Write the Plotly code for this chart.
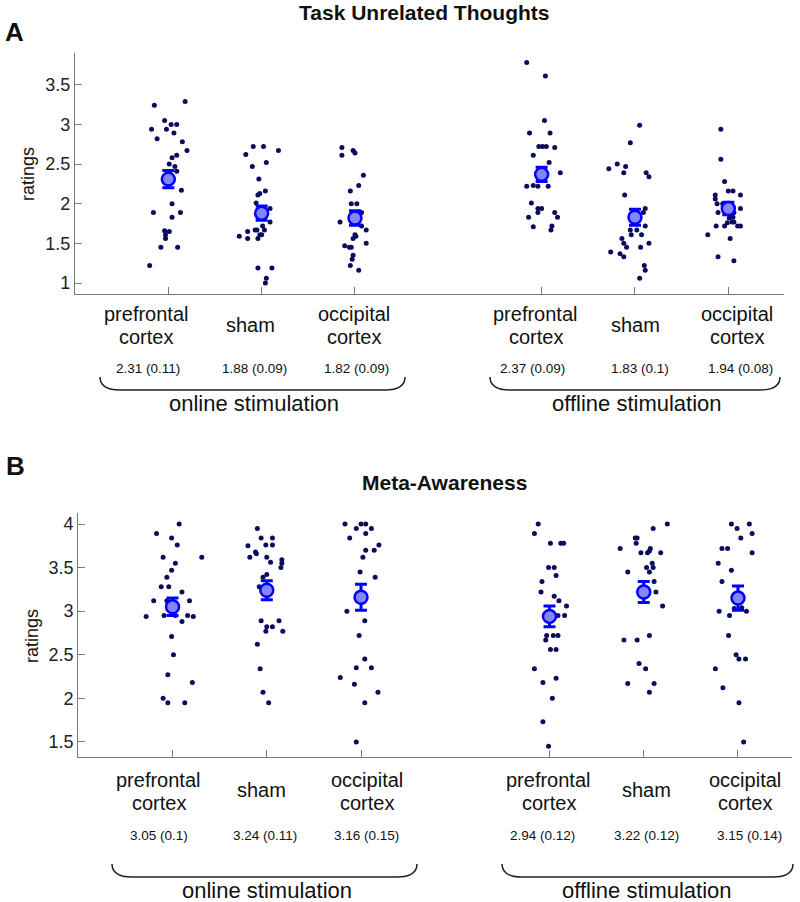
import plotly.graph_objects as go

# ---------------- data ----------------
positions = [1, 2, 3, 5, 6, 7]
cat_line1 = ["prefrontal", "sham", "occipital", "prefrontal", "sham", "occipital"]
cat_line2 = ["cortex", "", "cortex", "cortex", "", "cortex"]
stim_labels = ["online stimulation", "offline stimulation"]

tut_means = [2.31, 1.88, 1.82, 2.37, 1.83, 1.94]
tut_se = [0.11, 0.09, 0.09, 0.09, 0.10, 0.08]
ma_means = [3.05, 3.24, 3.16, 2.94, 3.22, 3.15]
ma_se = [0.10, 0.11, 0.15, 0.12, 0.12, 0.14]

tut_yticks = [1, 1.5, 2, 2.5, 3, 3.5]
ma_yticks = [1.5, 2, 2.5, 3, 3.5, 4]

# Task unrelated thoughts: individual ratings (y) and horizontal jitter (dx)
tut_on_pfc_y = [3.24, 3.29, 3.05, 2.94, 2.94, 3.0, 3.0, 2.82, 2.89, 2.78, 2.67, 2.58, 2.61, 2.5, 2.47, 2.41,
                2.17, 2.0, 1.89, 1.89, 1.83, 1.66, 1.65, 1.61, 1.56, 1.45, 1.45, 1.22]
tut_on_pfc_dx = [-0.15, 0.18, -0.04, -0.18, -0.02, 0.03, 0.09, -0.12, 0.06, 0.15, 0.2, 0.04, 0.09, 0.01, 0.07, 0.09,
                 0.14, 0.04, -0.16, 0.13, 0.04, -0.04, 0.01, -0.03, -0.03, -0.08, 0.1, -0.2]
tut_on_sham_y = [2.62, 2.72, 2.72, 2.67, 2.47, 2.52, 2.31, 2.11, 2.13, 2.16, 2.01, 1.94, 1.77, 1.72, 1.65, 1.67,
                 1.67, 1.67, 1.61, 1.61, 1.59, 1.56, 1.56, 1.19, 1.19, 1.06, 1.0]
tut_on_sham_dx = [-0.17, -0.09, 0.02, 0.18, -0.1, 0.05, -0.03, -0.04, -0.02, 0.04, -0.06, 0.09, 0.09, 0.01, -0.15, -0.07,
                  -0.05, 0.03, 0.0, -0.02, -0.24, -0.15, -0.04, -0.04, 0.11, 0.05, 0.04]
tut_on_occ_y = [2.71, 2.61, 2.67, 2.64, 2.36, 2.23, 2.16, 2.0, 2.0, 1.89, 1.77, 1.72, 1.67, 1.61, 1.59, 1.56,
                1.5, 1.47, 1.45, 1.45, 1.35, 1.3, 1.22, 1.16]
tut_on_occ_dx = [-0.14, -0.14, -0.02, 0.0, 0.09, 0.04, -0.05, -0.04, 0.02, 0.07, -0.16, 0.07, 0.12, 0.0, 0.01, -0.02,
                 0.12, -0.11, -0.06, -0.04, -0.02, -0.03, -0.05, 0.04]
tut_off_pfc_y = [3.78, 3.61, 3.05, 2.89, 2.89, 2.72, 2.72, 2.72, 2.71, 2.61, 2.52, 2.39, 2.22, 2.23, 2.22, 2.22,
                 2.01, 1.94, 1.94, 1.89, 1.89, 1.83, 1.83, 1.71, 1.72, 1.67]
tut_off_pfc_dx = [-0.16, 0.04, 0.03, -0.13, 0.09, -0.03, 0.01, 0.05, 0.14, -0.09, 0.08, 0.2, -0.16, -0.09, -0.04, 0.07,
                  -0.11, -0.04, 0.0, -0.04, 0.14, -0.14, 0.17, -0.09, 0.11, 0.1]
tut_off_sham_y = [2.99, 2.77, 2.44, 2.5, 2.47, 2.39, 2.39, 2.34, 2.11, 1.94, 1.89, 1.72, 1.67, 1.67, 1.61, 1.61,
                  1.56, 1.5, 1.45, 1.45, 1.5, 1.39, 1.37, 1.33, 1.22, 1.16, 1.06]
tut_off_sham_dx = [0.05, -0.05, -0.28, -0.19, -0.1, -0.12, 0.12, 0.15, -0.11, 0.11, 0.09, 0.11, -0.05, 0.02, -0.04, 0.07,
                   -0.14, -0.12, -0.09, 0.06, 0.15, -0.26, -0.16, -0.12, 0.1, 0.11, 0.05]
tut_off_occ_y = [2.94, 2.56, 2.28, 2.16, 2.16, 2.11, 2.06, 2.11, 2.0, 2.0, 1.94, 1.89, 1.89, 1.82, 1.83, 1.77,
                 1.77, 1.72, 1.72, 1.76, 1.72, 1.72, 1.61, 1.56, 1.33, 1.28]
tut_off_occ_dx = [-0.08, -0.08, -0.04, 0.0, 0.05, -0.14, -0.14, 0.13, -0.12, -0.06, 0.13, -0.11, 0.06, 0.01, 0.05, 0.04,
                  0.06, -0.04, -0.13, -0.01, 0.1, 0.13, -0.22, 0.02, -0.11, 0.06]

# Meta-awareness: individual ratings (y) and horizontal jitter (dx)
ma_on_pfc_y = [4.0, 3.89, 3.84, 3.76, 3.62, 3.62, 3.55, 3.47, 3.39, 3.28, 3.28, 3.22, 3.12, 3.12, 3.12, 2.95,
               2.95, 2.95, 2.94, 2.94, 2.88, 2.71, 2.5, 2.27, 2.18, 2.0, 1.95, 1.95]
ma_on_pfc_dx = [0.07, -0.17, -0.01, 0.05, -0.1, 0.31, 0.03, -0.01, -0.06, -0.12, -0.04, 0.1, -0.2, -0.06, 0.18, -0.09,
                0.03, 0.16, 0.22, -0.28, 0.1, -0.01, 0.01, -0.05, 0.21, -0.1, -0.05, 0.13]
ma_on_sham_y = [3.95, 3.84, 3.84, 3.75, 3.76, 3.76, 3.68, 3.66, 3.62, 3.62, 3.56, 3.59, 3.55, 3.5, 3.39, 3.42,
                3.28, 2.89, 2.89, 2.82, 2.82, 2.77, 2.77, 2.62, 2.34, 2.07, 1.95]
ma_on_sham_dx = [-0.1, -0.06, 0.06, -0.2, -0.01, 0.06, -0.12, -0.11, -0.18, 0.0, 0.04, 0.16, 0.16, 0.15, -0.04, 0.0,
                 -0.08, -0.06, 0.13, 0.0, 0.06, -0.01, 0.17, -0.1, -0.07, -0.04, 0.02]
ma_on_occ_y = [4.0, 4.0, 4.0, 3.95, 3.95, 3.84, 3.89, 3.76, 3.7, 3.7, 3.62, 3.45, 3.39, 3.0, 2.89, 2.72,
               2.45, 2.35, 2.35, 2.24, 2.16, 2.07, 1.95, 1.5]
ma_on_occ_dx = [-0.17, 0.0, 0.05, -0.05, 0.11, -0.12, 0.05, 0.19, 0.05, 0.14, 0.02, -0.01, 0.15, -0.15, 0.04, -0.02,
                0.04, -0.05, 0.11, -0.22, -0.07, 0.18, 0.04, -0.05]
ma_off_pfc_y = [4.0, 3.89, 3.78, 3.78, 3.78, 3.5, 3.5, 3.41, 3.34, 3.22, 3.17, 3.12, 3.06, 2.95, 2.95, 2.72,
                2.72, 2.72, 2.67, 2.56, 2.56, 2.34, 2.18, 2.23, 2.0, 1.73, 1.45]
ma_off_pfc_dx = [-0.12, -0.16, 0.01, 0.12, 0.15, -0.01, 0.05, 0.07, -0.08, -0.09, 0.05, 0.1, 0.18, 0.16, 0.09, -0.03,
                 0.04, 0.09, -0.04, 0.01, 0.07, -0.16, -0.07, 0.07, 0.03, -0.07, -0.01]
ma_off_sham_y = [4.0, 3.95, 3.84, 3.84, 3.78, 3.72, 3.72, 3.69, 3.67, 3.67, 3.67, 3.55, 3.5, 3.5, 3.45, 3.45,
                 3.34, 3.22, 3.06, 2.67, 2.67, 2.72, 2.4, 2.34, 2.17, 2.17, 2.07]
ma_off_sham_dx = [0.25, 0.1, -0.09, -0.07, -0.08, -0.25, 0.07, 0.06, -0.03, 0.04, 0.18, 0.09, 0.03, 0.1, 0.06, -0.17,
                  0.11, 0.13, 0.2, -0.21, -0.07, 0.06, -0.05, 0.02, -0.17, 0.11, 0.06]
ma_off_occ_y = [4.0, 4.0, 3.95, 3.89, 3.84, 3.72, 3.72, 3.67, 3.55, 3.47, 3.34, 3.0, 3.0, 3.04, 2.95, 3.03,
                2.72, 2.5, 2.45, 2.45, 2.34, 2.12, 1.95, 1.5]
ma_off_occ_dx = [-0.07, 0.12, -0.01, 0.15, 0.03, -0.17, -0.11, 0.15, -0.21, -0.07, -0.17, 0.09, -0.2, 0.04, -0.09, -0.04,
                 -0.1, -0.02, 0.01, 0.08, -0.24, -0.16, 0.01, 0.06]

tut_groups_y = [tut_on_pfc_y, tut_on_sham_y, tut_on_occ_y, tut_off_pfc_y, tut_off_sham_y, tut_off_occ_y]
tut_groups_dx = [tut_on_pfc_dx, tut_on_sham_dx, tut_on_occ_dx, tut_off_pfc_dx, tut_off_sham_dx, tut_off_occ_dx]
ma_groups_y = [ma_on_pfc_y, ma_on_sham_y, ma_on_occ_y, ma_off_pfc_y, ma_off_sham_y, ma_off_occ_y]
ma_groups_dx = [ma_on_pfc_dx, ma_on_sham_dx, ma_on_occ_dx, ma_off_pfc_dx, ma_off_sham_dx, ma_off_occ_dx]

# ---------------- style ----------------
W, H = 800, 902
FONT = "Liberation Sans, Arial, sans-serif"
DOT = "#0c0c5c"
BLUE = "#0000ff"
FILL = "#8486ff"
AXC = "#7a7a7a"
TXT = "#111111"


def py2y(py):
    return 1 - py / H


def px2x(px):
    return px / W


fig = go.Figure()

panels = [
    dict(xa="x", ya="y", groups_y=tut_groups_y, groups_dx=tut_groups_dx, means=tut_means, se=tut_se),
    dict(xa="x2", ya="y2", groups_y=ma_groups_y, groups_dx=ma_groups_dx, means=ma_means, se=ma_se),
]

for p in panels:
    xs, ys = [], []
    for pos, gy, gdx in zip(positions, p["groups_y"], p["groups_dx"]):
        xs += [pos + d for d in gdx]
        ys += gy
    fig.add_trace(go.Scatter(x=xs, y=ys, mode="markers", xaxis=p["xa"], yaxis=p["ya"],
                             marker=dict(color=DOT, size=5, line=dict(width=0)),
                             showlegend=False, hoverinfo="skip"))
    fig.add_trace(go.Scatter(x=positions, y=p["means"], mode="markers", xaxis=p["xa"], yaxis=p["ya"],
                             marker=dict(color=FILL, size=13, line=dict(color=BLUE, width=2.5)),
                             error_y=dict(type="data", array=p["se"], color=BLUE, thickness=3, width=6),
                             showlegend=False, hoverinfo="skip"))

axis_common = dict(showgrid=False, zeroline=False, showline=True, linecolor=AXC, linewidth=1.3,
                   ticks="inside", ticklen=7, tickwidth=1.2, tickcolor=AXC,
                   tickfont=dict(family=FONT, size=18, color="#222222"))

fig.update_layout(
    width=W, height=H, margin=dict(l=0, r=0, t=0, b=0),
    paper_bgcolor="white", plot_bgcolor="white",
    xaxis=dict(domain=[75 / W, 784.3 / W], range=[0, 7.6], tickvals=positions, showticklabels=False,
               anchor="y", **axis_common),
    yaxis=dict(domain=[py2y(294.3), py2y(53)], range=[0.858, 3.9], tickvals=tut_yticks,
               ticktext=[f"{v:g}" for v in tut_yticks], anchor="x", **axis_common),
    xaxis2=dict(domain=[78.3 / W, 791.7 / W], range=[0, 7.57], tickvals=positions, showticklabels=False,
                anchor="y2", **axis_common),
    yaxis2=dict(domain=[py2y(757.3), py2y(513.3)], range=[1.323, 4.123], tickvals=ma_yticks,
                ticktext=[f"{v:g}" for v in ma_yticks], anchor="x2", **axis_common),
)

ann = []


def add_text(text, x, y, size, xref="paper", xshift=0, bold=False, angle=0):
    ann.append(dict(text=f"<b>{text}</b>" if bold else text, x=x, y=y, xref=xref, yref="paper",
                    xshift=xshift, showarrow=False, xanchor="center", yanchor="middle", textangle=angle,
                    font=dict(family=FONT, size=size, color=TXT)))


# titles and panel letters
add_text("Task Unrelated Thoughts", px2x(424), py2y(13), 21, bold=True)
add_text("Meta-Awareness", px2x(444), py2y(482), 21, bold=True)
add_text("A", px2x(14), py2y(32), 26, bold=True)
add_text("B", px2x(15), py2y(466), 26, bold=True)
add_text("ratings", px2x(28), py2y(174), 18, angle=-90)
add_text("ratings", px2x(32), py2y(636), 18, angle=-90)

panel_text = [
    dict(xref="x", lab_shift=[-22, -11, -1, -6, 1, 9], val_shift=[-20, -7, 2, -9, 5, 12],
         y1=314, y2=337, ymid=325, yval=368, ystim=403, stim_shift=[-8, 2],
         means=tut_means, se=tut_se),
    dict(xref="x2", lab_shift=[-14, -5, 6, -1, 3, 7], val_shift=[-14, -2, 5, -7, 3, 12],
         y1=780, y2=803, ymid=790, yval=835, ystim=890, stim_shift=[0, 3],
         means=ma_means, se=ma_se),
]

for pt in panel_text:
    for i, pos in enumerate(positions):
        if cat_line2[i]:
            add_text(cat_line1[i], pos, py2y(pt["y1"]), 20, xref=pt["xref"], xshift=pt["lab_shift"][i])
            add_text(cat_line2[i], pos, py2y(pt["y2"]), 20, xref=pt["xref"], xshift=pt["lab_shift"][i])
        else:
            add_text(cat_line1[i], pos, py2y(pt["ymid"]), 20, xref=pt["xref"], xshift=pt["lab_shift"][i])
        add_text(f"{pt['means'][i]:g} ({pt['se'][i]:g})", pos, py2y(pt["yval"]), 13.5,
                 xref=pt["xref"], xshift=pt["val_shift"][i])
    for j, centre in enumerate([positions[1], positions[4]]):
        add_text(stim_labels[j], centre, py2y(pt["ystim"]), 22, xref=pt["xref"], xshift=pt["stim_shift"][j])

fig.update_layout(annotations=ann)


def brace_path(xl, xr, yt, yb, c=20):
    return (f"M {px2x(xl)},{py2y(yt)} Q {px2x(xl)},{py2y(yb)} {px2x(xl + c)},{py2y(yb)} "
            f"L {px2x(xr - c)},{py2y(yb)} Q {px2x(xr)},{py2y(yb)} {px2x(xr)},{py2y(yt)}")


braces = [(100, 405, 377, 390), (490, 780, 377, 390), (112, 417, 864, 877), (502, 793, 864, 877)]
fig.update_layout(shapes=[dict(type="path", xref="paper", yref="paper", path=brace_path(*b),
                               line=dict(color="#222222", width=1.5)) for b in braces])

fig.write_html("out.html", config={"displayModeBar": False},
               post_script="document.body.style.margin='0px';")
